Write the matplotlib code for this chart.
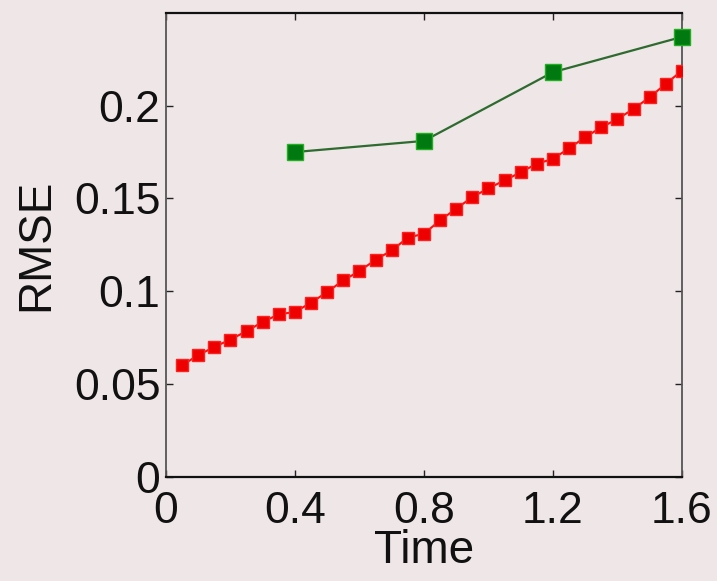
import matplotlib
matplotlib.use("Agg")
import matplotlib.pyplot as plt
import numpy as np

# Time steps and RMSE values for the two methods
time_dense = [0.05 * i for i in range(1, 33)]
rmse_dense = [0.0602, 0.0656, 0.0701, 0.0740, 0.0786, 0.0835, 0.0876, 0.0889,
              0.0939, 0.0996, 0.1059, 0.1109, 0.1170, 0.1220, 0.1289, 0.1310,
              0.1382, 0.1445, 0.1507, 0.1555, 0.1597, 0.1641, 0.1687, 0.1713,
              0.1770, 0.1830, 0.1883, 0.1928, 0.1982, 0.2045, 0.2117, 0.2188]

time_sparse = [0.4, 0.8, 1.2, 1.6]
rmse_sparse = [0.175, 0.181, 0.218, 0.237]

xticks = [0, 0.4, 0.8, 1.2, 1.6]
xtick_labels = ["0", "0.4", "0.8", "1.2", "1.6"]
yticks = [0, 0.05, 0.1, 0.15, 0.2]
ytick_labels = ["0", "0.05", "0.1", "0.15", "0.2"]

bg = "#efe6e8"
plt.rcParams["font.family"] = ["Liberation Sans", "DejaVu Sans"]

fig = plt.figure(figsize=(7.17, 5.81), dpi=100, facecolor=bg)
ax = fig.add_axes([0.2315, 0.179, 0.7195, 0.799], facecolor=bg)

ax.plot(time_dense, rmse_dense, color="#ff1010", lw=1.5, marker="s",
        markersize=9, markerfacecolor="#ee0000", markeredgecolor="#ff2020",
        zorder=3)
ax.plot(time_sparse, rmse_sparse, color="#2e6b2e", lw=1.6, marker="s",
        markersize=11, markerfacecolor="#007a10", markeredgecolor="#20b020",
        zorder=4, clip_on=False)

ax.set_xlim(0, 1.6)
ax.set_ylim(0, 0.25)
ax.set_xticks(xticks)
ax.set_xticklabels(xtick_labels)
ax.set_yticks(yticks)
ax.set_yticklabels(ytick_labels)

ax.tick_params(direction="in", length=5, width=1, top=True, right=True,
               labelsize=32, colors="#222222", labelcolor="#111111")
ax.tick_params(axis="x", pad=10)
ax.tick_params(axis="y", pad=4)
for side in ["bottom", "top"]:
    ax.spines[side].set_linewidth(1.6)
    ax.spines[side].set_color("#111111")
for side in ["left", "right"]:
    ax.spines[side].set_linewidth(1.3)
    ax.spines[side].set_color("#555555")

ax.set_xlabel("Time", fontsize=33, labelpad=-2, color="#111111")
ax.set_ylabel("RMSE", fontsize=33, labelpad=11, color="#111111")

fig.savefig("out.png", dpi=100, facecolor=bg)
